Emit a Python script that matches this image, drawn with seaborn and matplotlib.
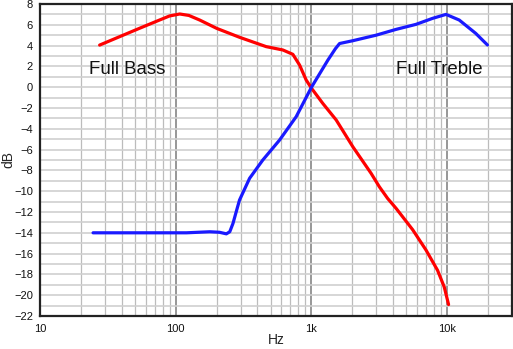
import numpy as np
import seaborn as sns
import matplotlib.pyplot as plt
from matplotlib.ticker import FixedLocator, NullFormatter

# frequency response curves
bass_hz = [27.5, 54, 76, 90, 107, 125, 150, 200, 295, 464, 615, 729, 817, 914,
           1000, 1210, 1520, 2015, 2748, 3160, 3640, 4200, 5560, 6970, 8480,
           9500, 10230]
bass_db = [4.05, 5.66, 6.46, 6.85, 7.04, 6.9, 6.46, 5.66, 4.8, 3.9, 3.58, 3.16,
           2.13, 0.69, -0.1, -1.55, -3.15, -5.72, -8.28, -9.57, -10.7, -11.65,
           -13.7, -15.65, -17.6, -19.2, -20.9]

treble_hz = [24.6, 60, 120, 178, 210, 236, 250, 264, 280, 295, 350, 438, 582,
             771, 1000, 1320, 1500, 1610, 2015, 2990, 4200, 5880, 7800, 9800,
             12250, 16200, 19780]
treble_db = [-14.0, -14.0, -14.0, -13.9, -13.95, -14.1, -13.9, -13.1, -11.9,
             -10.85, -8.76, -7.0, -5.08, -2.84, 0.0, 2.6, 3.7, 4.2, 4.47, 5.0,
             5.56, 6.04, 6.62, 7.0, 6.46, 5.18, 4.06]

x_ticks = [10, 100, 1000, 10000]
x_labels = ['10', '100', '1k', '10k']
y_ticks = list(range(-22, 9, 2))

sns.set_style('white')
plt.rcParams['font.family'] = ['Liberation Sans', 'DejaVu Sans']

fig = plt.figure(figsize=(5.13, 3.49), dpi=100)
ax = fig.add_axes([40 / 513, 1 - 316 / 349, 472 / 513, 312 / 349])
ax.set_xscale('log')

sns.lineplot(x=bass_hz, y=bass_db, sort=False, estimator=None, color='#ff0000',
             lw=2.3, ax=ax, zorder=3)
sns.lineplot(x=treble_hz, y=treble_db, sort=False, estimator=None, color='#1a1aff',
             lw=2.3, ax=ax, zorder=3)

ax.set_xlim(10, 30000)
ax.set_ylim(-22, 8)

ax.xaxis.set_major_locator(FixedLocator(x_ticks))
ax.set_xticklabels(x_labels)
minor_x = [m * d for d in [10, 100, 1000, 10000] for m in range(2, 10) if m * d <= 30000]
ax.xaxis.set_minor_locator(FixedLocator(minor_x))
ax.xaxis.set_minor_formatter(NullFormatter())
ax.set_yticks(y_ticks)
ax.yaxis.set_minor_locator(FixedLocator(list(range(-21, 8, 2))))

ax.set_axisbelow(True)
ax.grid(which='major', axis='x', color='#7a7a7a', lw=1.1)
ax.grid(which='minor', axis='x', color='#bcbcbc', lw=0.9)
ax.grid(which='both', axis='y', color='#d0d0d0', lw=1.2)
ax.tick_params(which='both', length=0, labelsize=8, colors='#111')
ax.tick_params(axis='x', pad=6)
ax.tick_params(axis='y', pad=5)

for s in ax.spines.values():
    s.set_color('#222222')
    s.set_linewidth(1.6)

ax.set_xlabel('Hz', fontsize=10)
ax.set_ylabel('dB', fontsize=10, va='center')
ax.xaxis.set_label_coords(0.5, -0.077)
ax.xaxis.label.set_va('center')
ax.yaxis.set_label_coords(-0.066, 0.5)

ax.text(22.9, 1.27, 'Full Bass', fontsize=13.4, ha='left', va='baseline', color='#111')
ax.text(4200, 1.27, 'Full Treble', fontsize=13.4, ha='left', va='baseline', color='#111')

fig.savefig('out.png', dpi=100)
